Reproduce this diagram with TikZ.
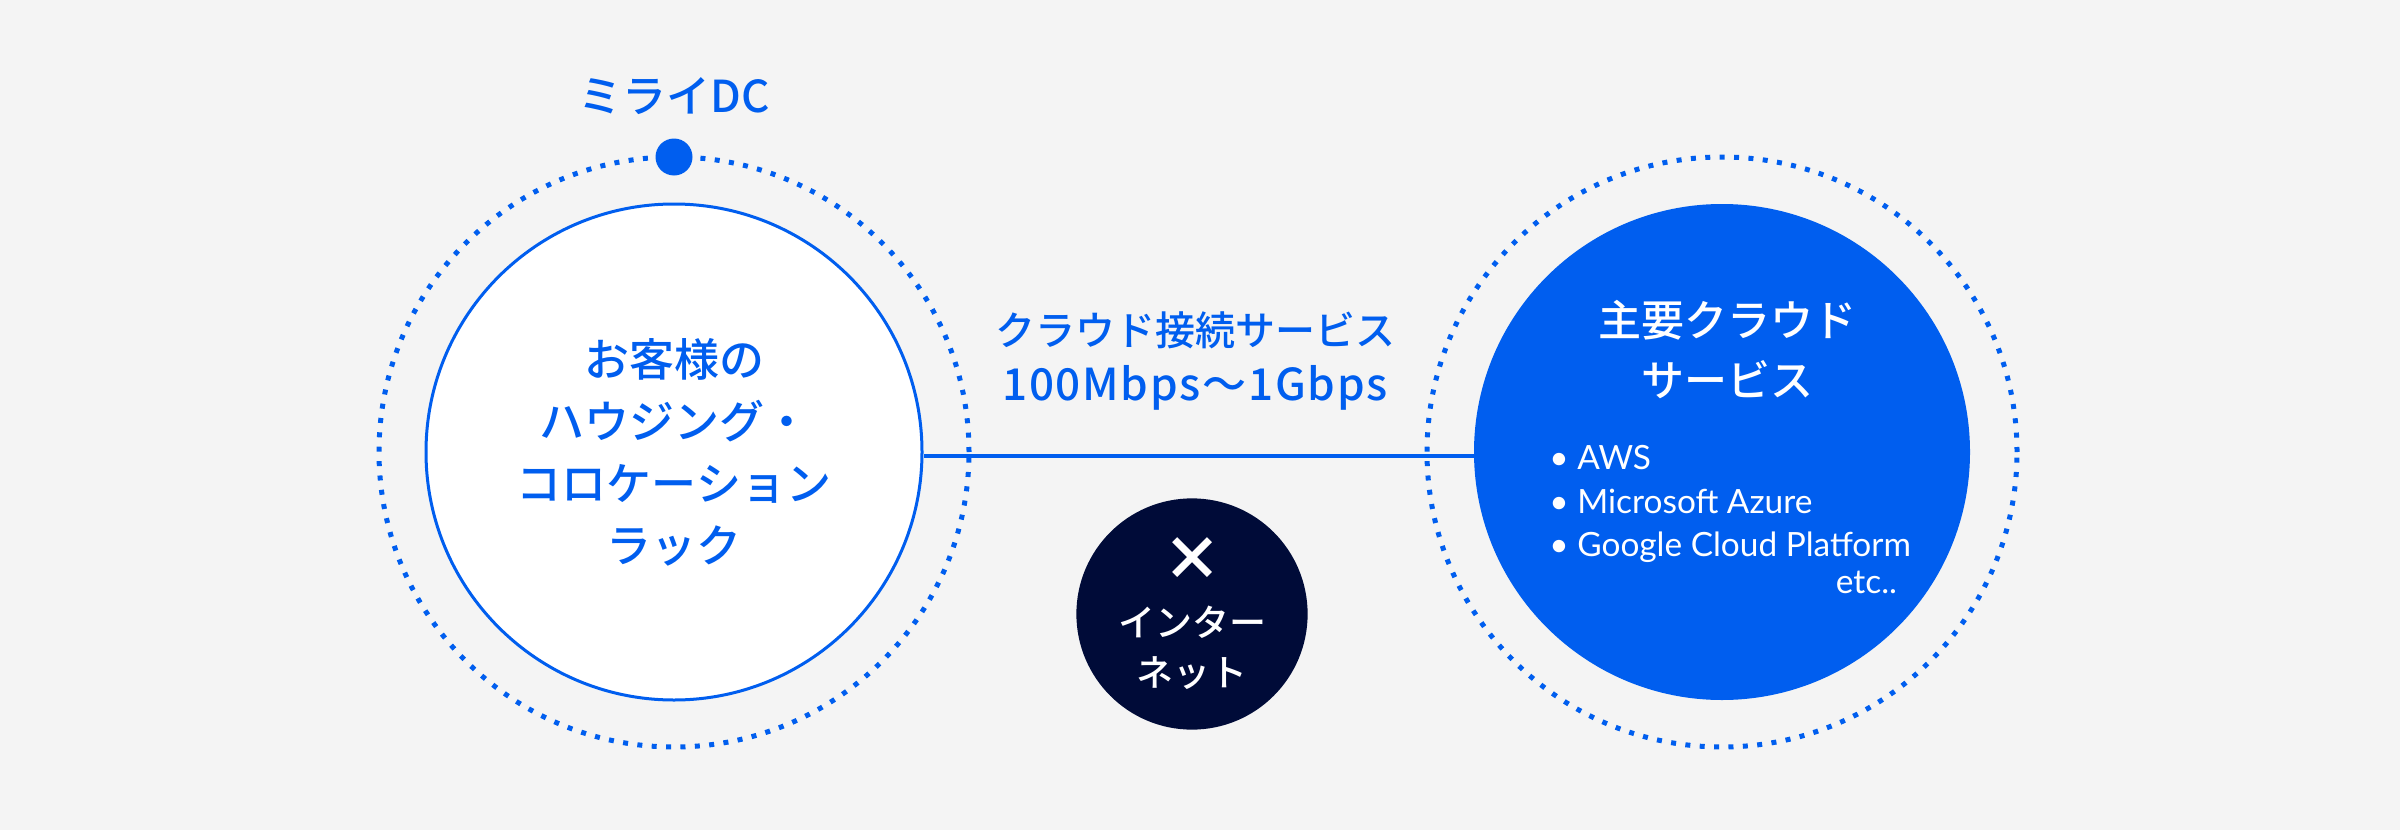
\documentclass[tikz,border=0pt]{standalone}
\usepackage{fontspec}
\setmainfont{Noto Sans CJK JP}[UprightFont=* Medium]
\newfontfamily\listfont{Lato}
\usepackage{tikz}
\usetikzlibrary{positioning}

\definecolor{mirai blue}{HTML}{005EEF}
\definecolor{night navy}{HTML}{000B38}
\definecolor{paper gray}{HTML}{F4F4F4}

\begin{document}
\begin{tikzpicture}[x=0.5pt,y=-0.5pt,node distance=30pt,
	ring node/.style={circle,draw=mirai blue,line width=2.5pt,dash pattern=on 2.5pt off 4.7pt,minimum size=295pt,inner sep=0pt,outer sep=0pt},
	rack node/.style={circle,draw=mirai blue,fill=white,line width=1.5pt,minimum size=248pt,align=center,text=mirai blue,font=\fontsize{22.5}{31}\selectfont},
	cloud node/.style={circle,fill=mirai blue,minimum size=248pt},
	net node/.style={circle,fill=night navy,minimum size=115.5pt,align=center,text=white,font=\fontsize{18.5}{25}\selectfont},
	label text/.style={text=mirai blue,align=center,inner sep=0pt}]

	\fill[paper gray] (0,0) rectangle (2400,830);
	\useasboundingbox (0,0) rectangle (2400,830);

	\node[ring node] (dc ring) at (674,452) {};
	\node[rack node] (rack) at (674,452) {お客様の\\ハウジング・\\コロケーション\\ラック};
	\node[circle,fill=mirai blue,minimum size=18.5pt,inner sep=0pt] (dc dot) at (dc ring.north) {};
	\node[label text,font=\fontsize{22}{26}\selectfont] (dc label) [above of=dc dot,node distance=30.5pt] {ミライDC};

	\node[ring node] (cloud ring) at (1722,452) {};
	\node[cloud node] (cloud) at (1722,452) {};
	\node[label text,text=white,font=\fontsize{21.5}{30}\selectfont] (cloud title) at (1727,350) {主要クラウド\\サービス};
	\node[text=white,align=left,inner sep=0pt,anchor=north west,font=\listfont\fontsize{16.7}{21.7}\selectfont] (cloud list) at (1549,445) {•\ AWS\\•\ Microsoft Azure\\•\ Google Cloud Platform};
	\node[text=white,inner sep=0pt,anchor=north east,font=\listfont\fontsize{16.7}{21.7}\selectfont] (cloud etc) [below=4pt of cloud list.south east,anchor=north east,xshift=-7pt] {etc..};

	\node[label text,font=\fontsize{20}{28}\selectfont] (speed) at (1195,361) {クラウド接続サービス\\{\fontsize{22}{28}\selectfont\addfontfeature{LetterSpace=4}100Mbps〜1Gbps}};

	\node[net node] (net) at (1192,614) {{\fontsize{30}{25}\bfseries ×}\\[3pt]インター\\ネット};

	\draw[mirai blue,line width=2pt] ([yshift=-2pt]rack.east) -- ([yshift=-2pt]cloud.west);
\end{tikzpicture}
\end{document}
